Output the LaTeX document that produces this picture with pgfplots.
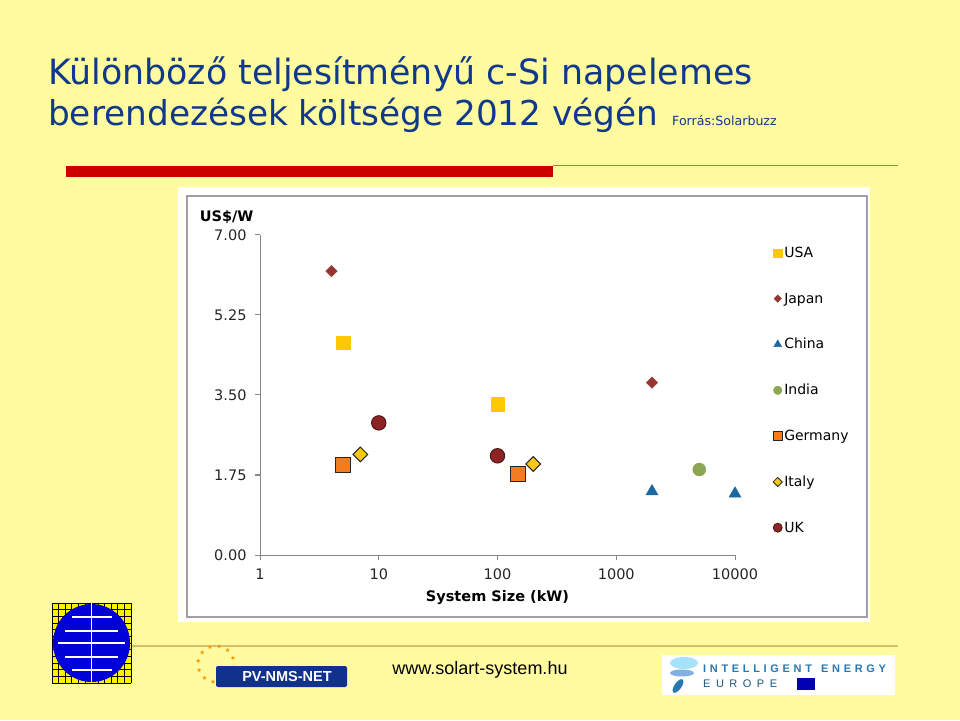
\documentclass[border=0pt]{standalone}
\usepackage{fontspec}
\setmainfont{DejaVu Sans}
\newfontfamily\arialfont{Liberation Sans}
\usepackage{graphicx}
\usepackage{pgfplots}
\pgfplotsset{compat=1.18}
\usetikzlibrary{shapes.geometric, calc}

\definecolor{slidebg}{RGB}{255,251,158}
\definecolor{titleblue}{RGB}{16,56,140}
\definecolor{barred}{RGB}{204,0,0}
\definecolor{barline}{RGB}{190,120,40}
\definecolor{footline}{RGB}{215,190,110}
\definecolor{axisgray}{RGB}{134,134,134}
\definecolor{framegray}{RGB}{160,160,160}
\definecolor{cusa}{RGB}{255,200,0}
\definecolor{cjapan}{RGB}{148,54,52}
\definecolor{cchina}{RGB}{25,105,160}
\definecolor{cindia}{RGB}{140,166,83}
\definecolor{cgermany}{RGB}{244,124,32}
\definecolor{citaly}{RGB}{247,200,20}
\definecolor{cuk}{RGB}{140,36,36}
\definecolor{pvblue}{RGB}{16,50,140}
\definecolor{ieeblue}{RGB}{40,120,175}

\begin{document}
\begin{tikzpicture}
\begin{scope}[x=1pt,y=1pt]
  % slide background
  \fill[slidebg] (0,0) rectangle (960,720);
  % title
  \node[anchor=base west, inner sep=0, text=titleblue, font=\fontsize{34.8}{40}\selectfont]
    at (48,635) {Különböző teljesítményű c-Si napelemes};
  \node[anchor=base west, inner sep=0, text=titleblue, font=\fontsize{34.3}{40}\selectfont]
    at (48,594) {berendezések költsége 2012 végén};
  \node[anchor=base west, inner sep=0, text=titleblue, font=\fontsize{12.6}{14}\selectfont]
    at (672,594) {Forrás:Solarbuzz};
  % red bar and rule
  \fill[barred] (66,543) rectangle (553,554);
  \draw[barline, line width=1.2pt] (553,554.4) -- (898,554.4);
  % chart frame
  \fill[white] (178,98) rectangle (870,533);
  \draw[framegray, line width=1.5pt] (187,103) rectangle (867,524);
  % footer rule
  \draw[footline, line width=1.5pt] (130,74) -- (898,74);
  % left logo
  \fill[yellow] (52,37) rectangle (131,117);
  \foreach \i in {0,...,12} {
    \draw[black, line width=0.8pt] (52+\i*6.58,37) -- (52+\i*6.58,117);
    \draw[black, line width=0.8pt] (52,37+\i*6.67) -- (131,37+\i*6.67);
  }
  \fill[blue!85!black] (91.5,77) ellipse (38.5 and 39);
  \draw[white, line width=1.4pt] (91.5,37) -- (91.5,117);
  \draw[white, line width=1.2pt] (72,103) -- (112,103);
  \draw[white, line width=1.2pt] (65,89) -- (118,89);
  \draw[white, line width=1.2pt] (58,77) -- (125,77);
  \draw[white, line width=1.2pt] (65,63) -- (118,63);
  \draw[white, line width=1.2pt] (72,50) -- (112,50);
  % PV-NMS-NET logo
  \foreach \a in {-10,20,...,290} {
    \node[star, star points=5, star point ratio=2.2, fill=orange!80!yellow, inner sep=0, minimum size=4.5pt]
      at ($(216,56)+(\a:18)$) {};
  }
  \fill[pvblue, rounded corners=2pt] (216,33) rectangle (347,54);
  \node[text=white, font=\arialfont\bfseries\fontsize{14.5}{16}\selectfont] at (287,43.5) {PV-NMS-NET};
  % web address
  \node[anchor=center, font=\arialfont\fontsize{18}{20}\selectfont] at (480,50) {www.solart-system.hu};
  % IEE logo
  \fill[white] (662,25) rectangle (895,65);
  \fill[cyan!35] (684,57) ellipse (14 and 6);
  \fill[cyan!60!blue!50] (682,47) ellipse (12 and 3.5);
  \fill[ieeblue, rotate around={55:(678,34)}] (678,34) ellipse (8 and 3.5);
  \node[anchor=base west, inner sep=0, text=ieeblue, font=\arialfont\bfseries\fontsize{11}{12}\selectfont]
    at (703,48) {I\,\,N\,\,T\,\,E\,\,L\,\,L\,\,I\,\,G\,\,E\,\,N\,\,T\,\,\,\,\,E\,\,N\,\,E\,\,R\,\,G\,\,Y};
  \node[anchor=base west, inner sep=0, text=ieeblue!70!black, font=\arialfont\fontsize{11}{12}\selectfont]
    at (703,33) {E\,\,\,U\,\,\,R\,\,\,O\,\,\,P\,\,\,E};
  \fill[blue!70!black] (797,30) rectangle (815,42);
\end{scope}

\begin{axis}[
  at={(260pt,165pt)}, anchor=south west,
  scale only axis, width=475pt, height=320pt,
  xmode=log, xmin=1, xmax=10000, ymin=0, ymax=7,
  axis lines*=left,
  axis line style={draw=axisgray, line width=1pt},
  xtick={1,10,100,1000,10000},
  xticklabels={1,10,100,1000,10000},
  ytick={0,1.75,3.5,5.25,7},
  yticklabels={0.00,1.75,3.50,5.25,7.00},
  xminorticks=false,
  tick align=outside, major tick length=5pt,
  tick style={draw=axisgray, line width=1pt},
  ticklabel style={font=\fontsize{14.5}{16}\selectfont, text=black!85},
  xticklabel style={yshift=-5pt},
  yticklabel style={xshift=-5pt},
  xlabel={\bfseries System Size (kW)},
  xlabel style={font=\fontsize{14.5}{16}\selectfont, at={(axis description cs:0.5,-0.133)}, anchor=center},
  ylabel={\bfseries US\$/W},
  ylabel style={rotate=-90, font=\fontsize{14.5}{16}\selectfont, at={(axis description cs:-0.134,1.056)}, anchor=west},
  clip=false,
  legend image code/.code={\draw[#1] plot coordinates {(0pt,0pt)};},
  legend style={draw=none, fill=none, at={(axis description cs:1.080,0.969)}, anchor=north west,
    font=\fontsize{14}{16}\selectfont, row sep=29.8pt, inner sep=0pt,
    /tikz/every even column/.append style={column sep=2pt}},
  legend cell align=left,
]
% data (forget plot); legend built from \addlegendimage below
\addplot[only marks, forget plot, mark=square*, mark size=6.8pt, mark options={draw=cusa, fill=cusa}]
  coordinates {(5,4.64) (100,3.30)};
\addplot[only marks, forget plot, mark=square*, mark size=4.1pt, mark options={rotate=45, draw=cjapan, fill=cjapan}]
  coordinates {(4,6.21) (2000,3.77)};
\addplot[only marks, forget plot, mark=triangle*, mark size=7pt, mark options={draw=cchina, fill=cchina}]
  coordinates {(2000,1.39) (10000,1.34)};
\addplot[only marks, forget plot, mark=*, mark size=6.5pt, mark options={draw=cindia, fill=cindia}]
  coordinates {(5000,1.87)};
\addplot[only marks, forget plot, mark=square*, mark size=7.5pt, mark options={draw=black!85, fill=cgermany, line width=1pt}]
  coordinates {(5,1.96) (150,1.77)};
\addplot[only marks, forget plot, mark=square*, mark size=5.2pt, mark options={rotate=45, draw=black!85, fill=citaly, line width=1pt}]
  coordinates {(7,2.20) (200,1.99)};
\addplot[only marks, forget plot, mark=*, mark size=7.2pt, mark options={draw=cuk!60!black, fill=cuk, line width=1pt}]
  coordinates {(10,2.89) (100,2.17)};

\addlegendimage{only marks, mark=square*, mark size=4.3pt, mark options={draw=cusa, fill=cusa}}
\addlegendentry{USA}
\addlegendimage{only marks, mark=square*, mark size=2.6pt, mark options={rotate=45, draw=cjapan, fill=cjapan}}
\addlegendentry{Japan}
\addlegendimage{only marks, mark=triangle*, mark size=4.5pt, mark options={draw=cchina, fill=cchina}}
\addlegendentry{China}
\addlegendimage{only marks, mark=*, mark size=4.3pt, mark options={draw=cindia, fill=cindia}}
\addlegendentry{India}
\addlegendimage{only marks, mark=square*, mark size=4.5pt, mark options={draw=black!85, fill=cgermany, line width=0.8pt}}
\addlegendentry{Germany}
\addlegendimage{only marks, mark=square*, mark size=3.2pt, mark options={rotate=45, draw=black!85, fill=citaly, line width=0.8pt}}
\addlegendentry{Italy}
\addlegendimage{only marks, mark=*, mark size=4.5pt, mark options={draw=cuk!60!black, fill=cuk, line width=0.8pt}}
\addlegendentry{UK}
\end{axis}
\end{tikzpicture}
\end{document}
